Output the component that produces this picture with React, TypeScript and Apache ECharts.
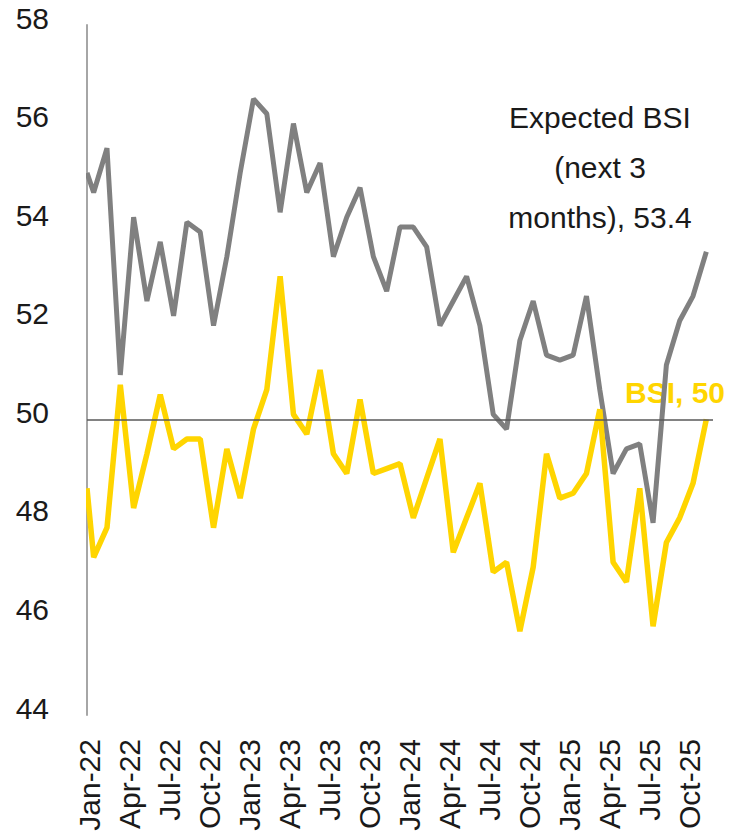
import React, { useEffect, useRef } from "react";
import * as echarts from "echarts";

const months = [
  "Dec-21",
  "Jan-22", "Feb-22", "Mar-22", "Apr-22", "May-22", "Jun-22", "Jul-22", "Aug-22", "Sep-22", "Oct-22", "Nov-22", "Dec-22",
  "Jan-23", "Feb-23", "Mar-23", "Apr-23", "May-23", "Jun-23", "Jul-23", "Aug-23", "Sep-23", "Oct-23", "Nov-23", "Dec-23",
  "Jan-24", "Feb-24", "Mar-24", "Apr-24", "May-24", "Jun-24", "Jul-24", "Aug-24", "Sep-24", "Oct-24", "Nov-24", "Dec-24",
  "Jan-25", "Feb-25", "Mar-25", "Apr-25", "May-25", "Jun-25", "Jul-25", "Aug-25", "Sep-25", "Oct-25", "Nov-25",
];

const expectedBsi = [
  55.0,
  54.6, 55.5, 50.9, 54.1, 52.4, 53.6, 52.1, 54.0, 53.8, 51.9, 53.3, 55.0,
  56.5, 56.2, 54.2, 56.0, 54.6, 55.2, 53.3, 54.1, 54.7, 53.3, 52.6, 53.9,
  53.9, 53.5, 51.9, 52.4, 52.9, 51.9, 50.1, 49.8, 51.6, 52.4, 51.3, 51.2,
  51.3, 52.5, 50.6, 48.9, 49.4, 49.5, 47.9, 51.1, 52.0, 52.5, 53.4,
];

const bsi = [
  48.6,
  47.2, 47.8, 50.7, 48.2, 49.3, 50.5, 49.4, 49.6, 49.6, 47.8, 49.4, 48.4,
  49.8, 50.6, 52.9, 50.1, 49.7, 51.0, 49.3, 48.9, 50.4, 48.9, 49.0, 49.1,
  48.0, 48.8, 49.6, 47.3, 48.0, 48.7, 46.9, 47.1, 45.7, 47.0, 49.3, 48.4,
  48.5, 48.9, 50.2, 47.1, 46.7, 48.6, 45.8, 47.5, 48.0, 48.7, 50.0,
];

const labelMonths = [
  "Jan-22", "Apr-22", "Jul-22", "Oct-22", "Jan-23", "Apr-23", "Jul-23", "Oct-23",
  "Jan-24", "Apr-24", "Jul-24", "Oct-24", "Jan-25", "Apr-25", "Jul-25", "Oct-25",
];

const yTicks = { min: 44, max: 58, interval: 2 };
const referenceLevel = 50;

const FONT = "'Liberation Sans', Arial, sans-serif";
const GREY = "#808080";
const YELLOW = "#FFD500";

const X_MIN = -0.5;
const X_MAX = 46.5;

export default function App() {
  const ref = useRef<HTMLDivElement>(null);

  useEffect(() => {
    if (!ref.current) return;
    const chart = echarts.init(ref.current, undefined, { renderer: "svg" });
    // x position: month index relative to Jan-22; the first entry sits on the axis edge
    const toPoints = (arr: number[]) => arr.map((v, i) => [Math.max(i - 1, X_MIN), v]);
    const labelIdx = labelMonths.map((m) => months.indexOf(m) - 1);

    chart.setOption({
      animation: false,
      backgroundColor: "#ffffff",
      grid: { left: 87, right: 19, top: 25, bottom: 121, containLabel: false },
      xAxis: {
        type: "value",
        min: X_MIN,
        max: X_MAX,
        axisLine: { show: false },
        axisTick: { show: false },
        splitLine: { show: false },
        axisLabel: {
          customValues: labelIdx,
          rotate: 90,
          margin: 24,
          fontSize: 30,
          fontFamily: FONT,
          color: "#1a1a1a",
          verticalAlign: "bottom",
          lineHeight: 8,
          formatter: (v: number) => months[Math.round(v) + 1] || "",
        },
      },
      yAxis: {
        type: "value",
        min: yTicks.min,
        max: yTicks.max,
        interval: yTicks.interval,
        axisLine: { show: true, onZero: false, lineStyle: { color: "#A6A6A6", width: 2 } },
        axisTick: { show: false },
        splitLine: { show: false },
        axisLabel: {
          margin: 38,
          fontSize: 30,
          fontFamily: FONT,
          color: "#1a1a1a",
          verticalAlign: "bottom",
          lineHeight: 14,
        },
      },
      series: [
        {
          name: "Expected BSI (next 3 months)",
          type: "line",
          data: toPoints(expectedBsi),
          showSymbol: false,
          clip: true,
          lineStyle: { color: GREY, width: 5 },
          itemStyle: { color: GREY },
          markLine: {
            silent: true,
            symbol: ["none", "none"],
            label: { show: false },
            lineStyle: { color: "#595959", width: 1.5, type: "solid" },
            data: [{ yAxis: referenceLevel }],
          },
        },
        {
          name: "BSI",
          type: "line",
          data: toPoints(bsi),
          showSymbol: false,
          clip: true,
          lineStyle: { color: YELLOW, width: 5.5 },
          itemStyle: { color: YELLOW },
        },
      ],
      graphic: [
        {
          type: "rect",
          z: 100,
          shape: { x: 70, y: 15, width: 16, height: 710 },
          style: { fill: "#ffffff" },
          silent: true,
        },
        {
          type: "text",
          x: 600,
          y: 92,
          style: {
            text: "Expected BSI\n(next 3\nmonths), " + expectedBsi[expectedBsi.length - 1].toFixed(1),
            textAlign: "center",
            textVerticalAlign: "top",
            lineHeight: 50,
            fontSize: 30,
            fontFamily: FONT,
            fill: "#1a1a1a",
          },
        },
        {
          type: "text",
          x: 625,
          y: 392,
          style: {
            text: "BSI, " + bsi[bsi.length - 1].toFixed(0),
            textAlign: "left",
            textVerticalAlign: "middle",
            fontSize: 30,
            fontWeight: "bold",
            fontFamily: FONT,
            fill: YELLOW,
          },
        },
      ],
    });

    return () => chart.dispose();
  }, []);

  return (
    <div
      ref={ref}
      style={{ position: "fixed", left: 0, top: 0, width: 732, height: 836, background: "#fff" }}
    />
  );
}
